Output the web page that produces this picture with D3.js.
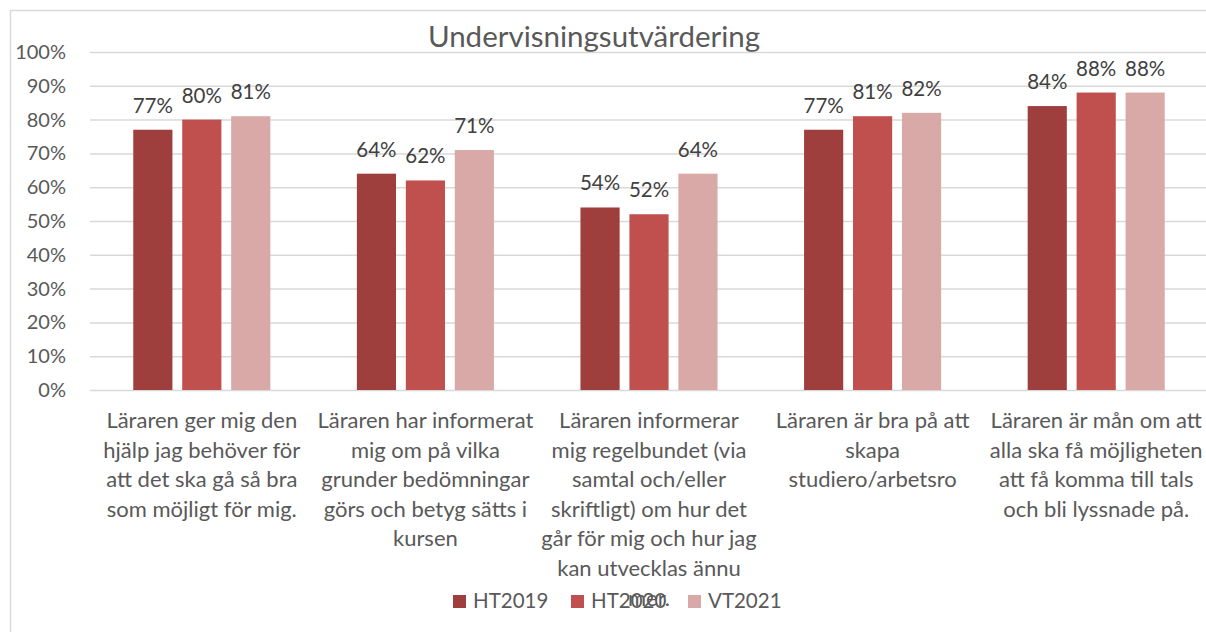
<!DOCTYPE html>
<html>
<head>
<meta charset="utf-8">
<script src="https://cdn.jsdelivr.net/npm/d3@7"></script>
<style>
  body { margin: 0; background: #fff; }
  text { font-family: Lato, "Open Sans", sans-serif; }
</style>
</head>
<body>
<script>
const W = 1206, H = 632
const categories = [
  ["Läraren ger mig den", "hjälp jag behöver för", "att det ska gå så bra", "som möjligt för mig."],
  ["Läraren har informerat", "mig om på vilka", "grunder bedömningar", "görs och betyg sätts i", "kursen"],
  ["Läraren informerar", "mig regelbundet (via", "samtal och/eller", "skriftligt) om hur det", "går för mig och hur jag", "kan utvecklas ännu", "mer."],
  ["Läraren är bra på att", "skapa", "studiero/arbetsro"],
  ["Läraren är mån om att", "alla ska få möjligheten", "att få komma till tals", "och bli lyssnade på."]
]
const seriesNames = ["HT2019", "HT2020", "VT2021"]
const ht2019 = [0.77, 0.64, 0.54, 0.77, 0.84]
const ht2020 = [0.80, 0.62, 0.52, 0.81, 0.88]
const vt2021 = [0.81, 0.71, 0.64, 0.82, 0.88]
const yTicks = [0, 0.1, 0.2, 0.3, 0.4, 0.5, 0.6, 0.7, 0.8, 0.9, 1]
const colors = ["#9e3e3d", "#c0504d", "#d9a9a8"]

const values = [ht2019, ht2020, vt2021]
const svg = d3.select("body").append("svg").attr("width", W).attr("height", H)

// chart frame
svg.append("rect").attr("x", 10.5).attr("y", 10.5).attr("width", W + 20).attr("height", H + 20)
  .attr("fill", "none").attr("stroke", "#d9d9d9").attr("stroke-width", 1.5)

svg.append("text").attr("x", 594).attr("y", 47).attr("text-anchor", "middle")
  .attr("font-size", 29.5).attr("fill", "#595959").text("Undervisningsutvärdering")

const x = d3.scaleBand().domain(d3.range(categories.length)).range([90, 1208])
  .paddingInner(0.387).paddingOuter(0.1935)
const xs = d3.scaleBand().domain(d3.range(seriesNames.length)).range([0, x.bandwidth()]).paddingInner(0.2)
const y = d3.scaleLinear().domain([0, 1]).range([390, 52])

// gridlines + y labels
const yAxis = svg.append("g").attr("transform", "translate(90,0)")
  .call(d3.axisLeft(y).tickValues(yTicks).tickSize(-1130).tickFormat(d3.format(".0%")).tickPadding(24))
yAxis.select(".domain").remove()
yAxis.selectAll(".tick line").attr("stroke", "#d9d9d9").attr("stroke-width", 1.5)
yAxis.selectAll(".tick text").attr("font-size", 20).attr("fill", "#595959")
  .style("font-family", "Lato, 'Open Sans', sans-serif")

// bars
const groups = svg.selectAll("g.series").data(values).enter().append("g").attr("class", "series")
  .attr("fill", (d, i) => colors[i])
groups.each(function (vals, si) {
  const g = d3.select(this)
  g.selectAll("rect").data(vals).enter().append("rect")
    .attr("x", (d, ci) => x(ci) + xs(si))
    .attr("y", d => y(d))
    .attr("width", xs.bandwidth())
    .attr("height", d => y(0) - y(d))
  g.selectAll("text").data(vals).enter().append("text")
    .attr("x", (d, ci) => x(ci) + xs(si) + xs.bandwidth() / 2)
    .attr("y", d => y(d) - 17)
    .attr("text-anchor", "middle").attr("font-size", 20.5).attr("fill", "#404040")
    .text(d => d3.format(".0%")(d))
})

// category labels (the long third label runs into the legend, as in the original)
categories.forEach((lines, ci) => {
  const t = svg.append("text").attr("text-anchor", "middle").attr("font-size", 22).attr("fill", "#595959")
  lines.forEach((ln, li) => {
    t.append("tspan").attr("x", x(ci) + x.bandwidth() / 2).attr("y", 428 + li * 29.6).text(ln)
  })
})

// legend
const legendX = [453, 571, 688]
const lg = svg.selectAll("g.legend").data(seriesNames).enter().append("g").attr("class", "legend")
  .attr("transform", (d, i) => `translate(${legendX[i]},601)`)
lg.append("rect").attr("x", 0).attr("y", -6).attr("width", 13).attr("height", 13).attr("fill", (d, i) => colors[i])
lg.append("text").attr("x", 20).attr("y", 6.5).attr("font-size", 20.5).attr("fill", "#595959").text(d => d)
</script>
</body>
</html>
